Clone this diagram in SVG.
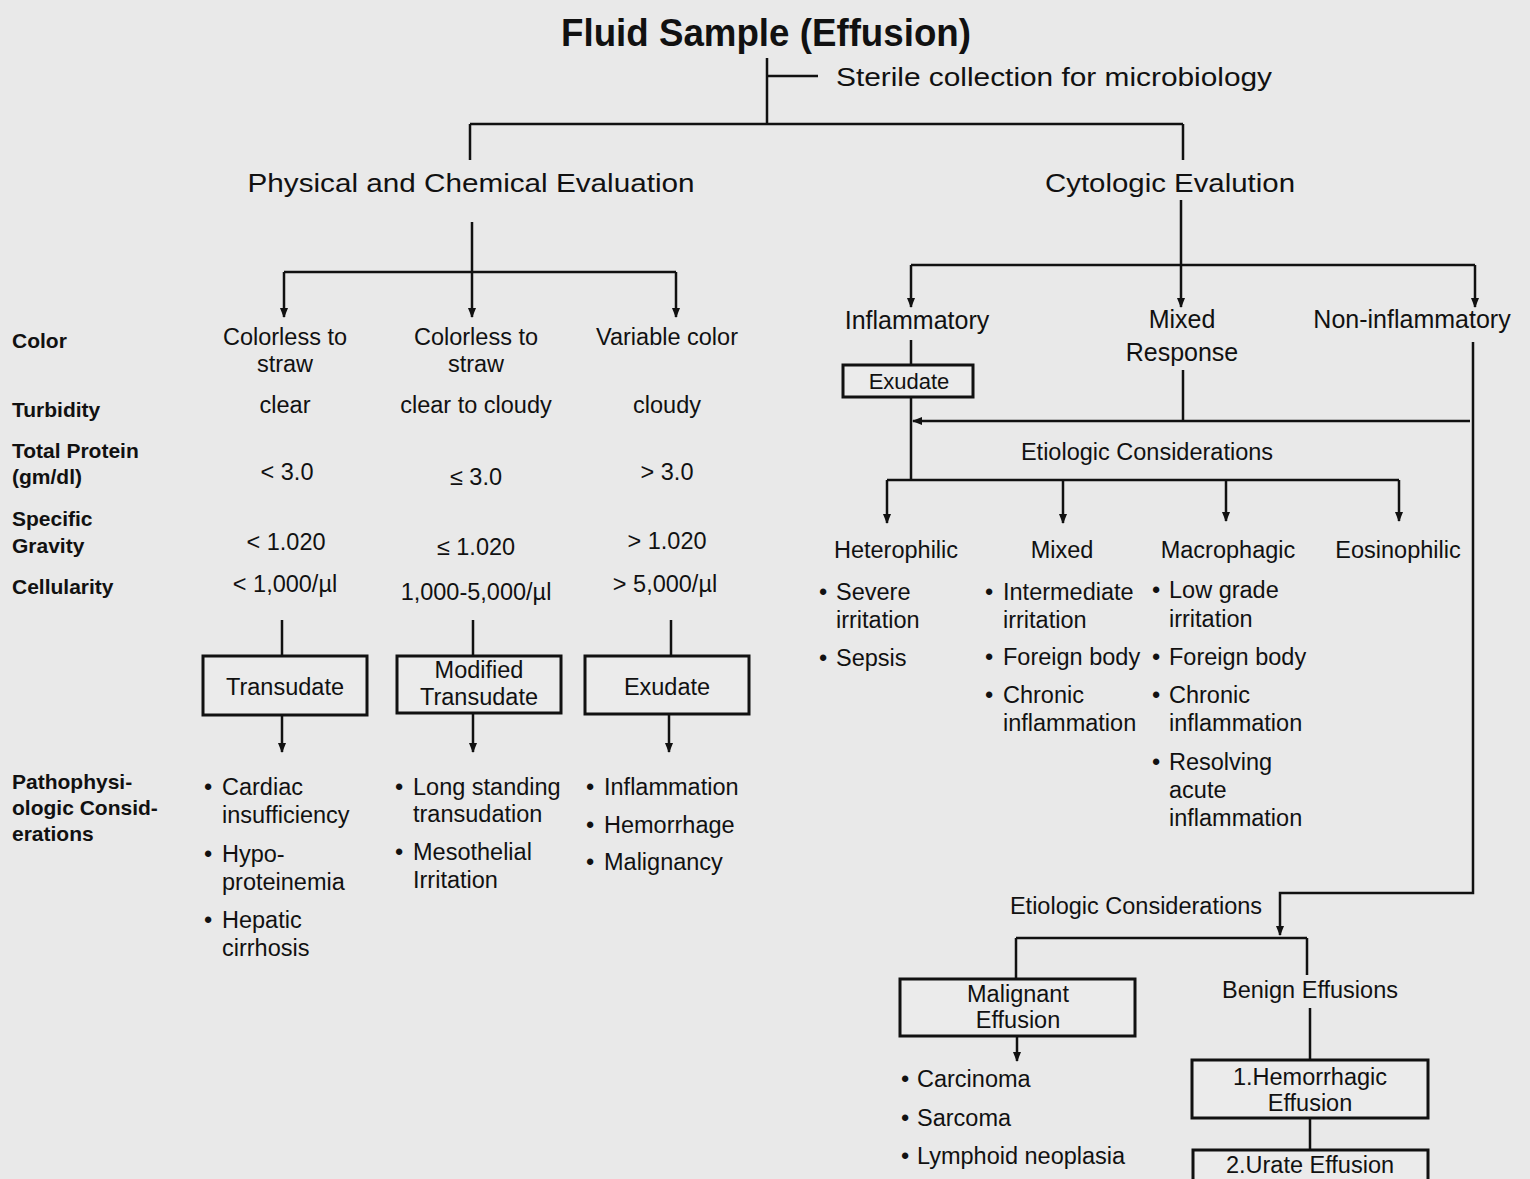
<svg xmlns="http://www.w3.org/2000/svg" width="1530" height="1179" viewBox="0 0 1530 1179">
<defs>
<marker id="ah" viewBox="0 0 10 10" refX="9" refY="5" markerWidth="4" markerHeight="4" orient="auto" markerUnits="strokeWidth"><path d="M0,1 L10,5 L0,9 z" fill="#111"/></marker>
<style>
text{font-family:"Liberation Sans",Arial,sans-serif;fill:#111}
.t{font-size:26px}
.m{font-size:23.5px}
.s{font-size:23.5px}
.lab{font-size:21px;font-weight:bold}
.c{text-anchor:middle}
.ln{stroke:#111;stroke-width:2.5;fill:none}
.bx{stroke:#111;stroke-width:3;fill:#ebebeb}
</style>
</defs>
<rect width="1530" height="1179" fill="#e9e9e9"/>

<g id="title">
<text x="766" y="46" class="c" font-size="38" font-weight="bold" textLength="410" lengthAdjust="spacingAndGlyphs">Fluid Sample (Effusion)</text>
<text x="836" y="86" font-size="26" textLength="436" lengthAdjust="spacingAndGlyphs">Sterile collection for microbiology</text>
</g>

<g id="phys">
<text x="471" y="192" class="t c" textLength="447" lengthAdjust="spacingAndGlyphs">Physical and Chemical Evaluation</text>
</g>
<g id="cyto">
<text x="1170" y="192" class="t c" textLength="250" lengthAdjust="spacingAndGlyphs">Cytologic Evalution</text>
</g>

<g id="row-labels">
<text x="12" y="348" class="lab">Color</text>
<text x="12" y="417" class="lab">Turbidity</text>
<text x="12" y="458" class="lab">Total Protein</text>
<text x="12" y="484" class="lab">(gm/dl)</text>
<text x="12" y="526" class="lab">Specific</text>
<text x="12" y="553" class="lab">Gravity</text>
<text x="12" y="594" class="lab">Cellularity</text>
<text x="12" y="789" class="lab">Pathophysi-</text>
<text x="12" y="815" class="lab">ologic Consid-</text>
<text x="12" y="841" class="lab">erations</text>
</g>

<g id="col1">
<text x="285" y="345" class="s c">Colorless to</text>
<text x="285" y="372" class="s c">straw</text>
<text x="285" y="413" class="s c">clear</text>
<text x="287" y="480" class="s c">&lt; 3.0</text>
<text x="286" y="550" class="s c">&lt; 1.020</text>
<text x="285" y="592" class="s c">&lt; 1,000/µl</text>
</g>
<g id="col2">
<text x="476" y="345" class="s c">Colorless to</text>
<text x="476" y="372" class="s c">straw</text>
<text x="476" y="413" class="s c">clear to cloudy</text>
<text x="476" y="485" class="s c">≤ 3.0</text>
<text x="476" y="555" class="s c">≤ 1.020</text>
<text x="476" y="600" class="s c">1,000-5,000/µl</text>
</g>
<g id="col3">
<text x="667" y="345" class="s c">Variable color</text>
<text x="667" y="413" class="s c">cloudy</text>
<text x="667" y="480" class="s c">&gt; 3.0</text>
<text x="667" y="549" class="s c">&gt; 1.020</text>
<text x="665" y="592" class="s c">&gt; 5,000/µl</text>
</g>

<g id="transudate">
<rect x="203" y="656" width="164" height="59" class="bx"/>
<text x="285" y="695" class="s c">Transudate</text>
</g>
<g id="modified-transudate">
<rect x="397" y="656" width="164" height="57" class="bx"/>
<text x="479" y="678" class="s c">Modified</text>
<text x="479" y="705" class="s c">Transudate</text>
</g>
<g id="exudate1">
<rect x="585" y="656" width="164" height="58" class="bx"/>
<text x="667" y="695" class="s c">Exudate</text>
</g>

<g id="causes1">
<text x="204" y="795" class="s">•</text><text x="222" y="795" class="s">Cardiac</text>
<text x="222" y="823" class="s">insufficiency</text>
<text x="204" y="862" class="s">•</text><text x="222" y="862" class="s">Hypo-</text>
<text x="222" y="890" class="s">proteinemia</text>
<text x="204" y="928" class="s">•</text><text x="222" y="928" class="s">Hepatic</text>
<text x="222" y="956" class="s">cirrhosis</text>
</g>
<g id="causes2">
<text x="395" y="795" class="s">•</text><text x="413" y="795" class="s">Long standing</text>
<text x="413" y="822" class="s">transudation</text>
<text x="395" y="860" class="s">•</text><text x="413" y="860" class="s">Mesothelial</text>
<text x="413" y="888" class="s">Irritation</text>
</g>
<g id="causes3">
<text x="586" y="795" class="s">•</text><text x="604" y="795" class="s">Inflammation</text>
<text x="586" y="833" class="s">•</text><text x="604" y="833" class="s">Hemorrhage</text>
<text x="586" y="870" class="s">•</text><text x="604" y="870" class="s">Malignancy</text>
</g>

<g id="inflammatory">
<text x="917" y="329" class="c" font-size="25">Inflammatory</text>
</g>
<g id="mixed-response">
<text x="1182" y="328" class="c" font-size="25">Mixed</text>
<text x="1182" y="361" class="c" font-size="25">Response</text>
</g>
<g id="non-inflammatory">
<text x="1412" y="328" class="c" font-size="25">Non-inflammatory</text>
</g>
<g id="exudate2">
<rect x="843" y="365" width="130" height="32" class="bx"/>
<text x="909" y="389" class="c" font-size="22">Exudate</text>
</g>

<g id="etiologic1">
<text x="1147" y="460" class="m c">Etiologic Considerations</text>
</g>

<g id="heterophilic">
<text x="896" y="558" class="m c">Heterophilic</text>
<text x="819" y="600" class="s">•</text><text x="836" y="600" class="s">Severe</text>
<text x="836" y="628" class="s">irritation</text>
<text x="819" y="666" class="s">•</text><text x="836" y="666" class="s">Sepsis</text>
</g>
<g id="mixed">
<text x="1062" y="558" class="m c">Mixed</text>
<text x="985" y="600" class="s">•</text><text x="1003" y="600" class="s">Intermediate</text>
<text x="1003" y="628" class="s">irritation</text>
<text x="985" y="665" class="s">•</text><text x="1003" y="665" class="s">Foreign body</text>
<text x="985" y="703" class="s">•</text><text x="1003" y="703" class="s">Chronic</text>
<text x="1003" y="731" class="s">inflammation</text>
</g>
<g id="macrophagic">
<text x="1228" y="558" class="m c">Macrophagic</text>
<text x="1152" y="598" class="s">•</text><text x="1169" y="598" class="s">Low grade</text>
<text x="1169" y="627" class="s">irritation</text>
<text x="1152" y="665" class="s">•</text><text x="1169" y="665" class="s">Foreign body</text>
<text x="1152" y="703" class="s">•</text><text x="1169" y="703" class="s">Chronic</text>
<text x="1169" y="731" class="s">inflammation</text>
<text x="1152" y="770" class="s">•</text><text x="1169" y="770" class="s">Resolving</text>
<text x="1169" y="798" class="s">acute</text>
<text x="1169" y="826" class="s">inflammation</text>
</g>
<g id="eosinophilic">
<text x="1398" y="558" class="m c">Eosinophilic</text>
</g>

<g id="etiologic2">
<text x="1136" y="914" class="m c">Etiologic Considerations</text>
</g>
<g id="malignant">
<rect x="900" y="979" width="235" height="57" class="bx"/>
<text x="1018" y="1002" class="s c">Malignant</text>
<text x="1018" y="1028" class="s c">Effusion</text>
<text x="901" y="1087" class="s">•</text><text x="917" y="1087" class="s">Carcinoma</text>
<text x="901" y="1126" class="s">•</text><text x="917" y="1126" class="s">Sarcoma</text>
<text x="901" y="1164" class="s">•</text><text x="917" y="1164" class="s">Lymphoid neoplasia</text>
</g>
<g id="benign">
<text x="1310" y="998" class="s c">Benign Effusions</text>
</g>
<g id="hemorrhagic">
<rect x="1192" y="1060" width="236" height="58" class="bx"/>
<text x="1310" y="1085" class="s c">1.Hemorrhagic</text>
<text x="1310" y="1111" class="s c">Effusion</text>
</g>
<g id="urate">
<rect x="1193" y="1150" width="235" height="40" class="bx"/>
<text x="1310" y="1173" class="s c">2.Urate Effusion</text>
</g>

<g id="connectors">
<path class="ln" d="M767,58 V124 M767,76 H818 M470,124 H1183 M470,124 V160 M1183,124 V160"/>
<path class="ln" d="M472,222 V272 M284,272 H676"/>
<path class="ln" d="M284,272 V317" marker-end="url(#ah)"/>
<path class="ln" d="M472,272 V317" marker-end="url(#ah)"/>
<path class="ln" d="M676,272 V317" marker-end="url(#ah)"/>
<path class="ln" d="M282,620 V656 M473,620 V656 M671,620 V656"/>
<path class="ln" d="M282,715 V752" marker-end="url(#ah)"/>
<path class="ln" d="M473,713 V752" marker-end="url(#ah)"/>
<path class="ln" d="M669,714 V752" marker-end="url(#ah)"/>

<path class="ln" d="M1181,200 V265 M911,265 H1475"/>
<path class="ln" d="M911,265 V307" marker-end="url(#ah)"/>
<path class="ln" d="M1181,265 V307" marker-end="url(#ah)"/>
<path class="ln" d="M1475,265 V307" marker-end="url(#ah)"/>
<path class="ln" d="M911,340 V365 M911,397 V480"/>
<path class="ln" d="M1183,370 V421"/>
<path class="ln" d="M1183,421 H913" marker-end="url(#ah)"/>
<path class="ln" d="M1183,421 H1470"/>
<path class="ln" d="M1473,342 V893 H1280 V935" marker-end="url(#ah)"/>
<path class="ln" d="M887,480 H1399"/>
<path class="ln" d="M887,480 V523" marker-end="url(#ah)"/>
<path class="ln" d="M1063,480 V523" marker-end="url(#ah)"/>
<path class="ln" d="M1226,480 V521" stroke="#888" marker-end="url(#ah)"/>
<path class="ln" d="M1399,480 V521" marker-end="url(#ah)"/>

<path class="ln" d="M1016,938 H1307 M1016,938 V979 M1307,938 V975"/>
<path class="ln" d="M1017,1036 V1061" marker-end="url(#ah)"/>
<path class="ln" d="M1310,1008 V1060 M1310,1118 V1150"/>
</g>
</svg>
